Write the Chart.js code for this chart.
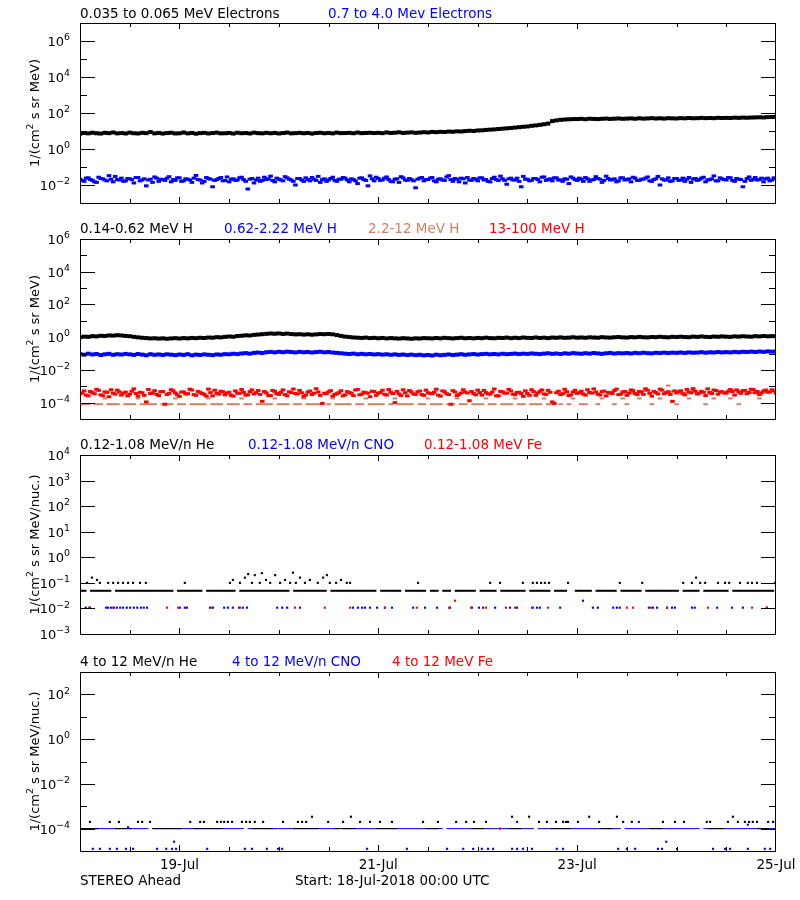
<!DOCTYPE html>
<html>
<head>
<meta charset="utf-8">
<title>STEREO Ahead particle fluxes</title>
<script src="https://cdn.jsdelivr.net/npm/chart.js@4.4.1/dist/chart.umd.min.js"></script>
<style>
  body { margin: 0; background: #fff; }
  #page { position: relative; width: 800px; height: 900px; }
  #page canvas { position: absolute; left: 0; }
</style>
</head>
<body>
<div id="page">
  <canvas id="panel1" width="800" height="215" style="top:0px"></canvas>
  <canvas id="panel2" width="800" height="215" style="top:215px"></canvas>
  <canvas id="panel3" width="800" height="210" style="top:430px"></canvas>
  <canvas id="panel4" width="800" height="260" style="top:640px"></canvas>
</div>
<script>
// time axis: hours after 18-Jul-2018 00:00 UTC; hourly arrays hold one value per hour (0..168),
// the "B" arrays hold the samples taken half an hour later (0.5..167.5)
const dayTicks = [24, 72, 120, 168];
const dayLabels = ['19-Jul', '21-Jul', '23-Jul', '25-Jul'];

// panel 1 - electrons
const elecLow = [
  7.1, 7.8, 7.4, 8.0, 7.5, 7.2, 7.9, 7.6, 8.3, 7.4, 7.7, 7.3,
  8.1, 7.5, 7.3, 7.9, 7.6, 8.7, 7.4, 7.8, 7.2, 7.7, 8.0, 7.3,
  7.5, 8.2, 7.4, 7.8, 7.1, 7.6, 7.9, 7.3, 7.7, 8.1, 7.4, 7.5,
  7.8, 7.2, 8.0, 7.5, 7.7, 7.3, 8.1, 7.6, 7.4, 7.9, 7.5, 7.8,
  7.3, 7.7, 8.2, 7.4, 7.6, 7.9, 7.5, 7.8, 7.2, 7.7, 8.0, 7.5,
  7.8, 7.4, 8.1, 7.6, 7.7, 7.9, 7.5, 8.2, 7.6, 7.8, 8.0, 7.7,
  7.9, 7.6, 8.3, 7.8, 8.0, 8.5, 7.8, 8.1, 8.4, 7.9, 8.2, 8.6,
  8.3, 8.9, 8.6, 9.0, 8.8, 9.3, 9.1, 9.6, 9.4, 9.9, 10.3, 10.1,
  10.7, 10.9, 11.5, 11.9, 12.3, 12.9, 13.5, 14.1, 14.7, 15.5, 16.3, 17.1,
  17.9, 19.4, 20.4, 21.9, 23.8, 25.9, 35.5, 38.8, 41.7, 43.6, 44.8, 45.9,
  46.1, 47.3, 45.2, 48.0, 46.8, 45.9, 47.7, 49.1, 46.9, 48.2, 49.8, 47.6,
  48.8, 50.1, 47.9, 50.6, 48.7, 49.9, 51.8, 49.6, 50.8, 48.9, 51.6, 50.4,
  49.7, 51.9, 50.6, 52.8, 50.9, 51.7, 53.6, 51.8, 52.9, 51.6, 53.8, 52.7,
  53.5, 52.6, 54.8, 53.7, 55.6, 54.5, 55.9, 56.8, 57.6, 56.7, 58.9, 59.8, 61.5
];
const elecHigh = [
  0.021, 0.016, 0.025, 0.018, 0.014, 0.023, 0.019, 0.033, 0.015, 0.020, 0.024, 0.017,
  0.022, 0.013, 0.026, 0.019, 0.009, 0.021, 0.028, 0.016, 0.020, 0.024, 0.015, 0.018,
  0.025, 0.017, 0.021, 0.014, 0.034, 0.019, 0.016, 0.023, 0.008, 0.020, 0.026, 0.018,
  0.015, 0.022, 0.019, 0.027, 0.016, 0.021, 0.013, 0.024, 0.018, 0.020, 0.031, 0.015,
  0.021, 0.017, 0.025, 0.019, 0.010, 0.023, 0.016, 0.020, 0.026, 0.018, 0.014, 0.022,
  0.019, 0.027, 0.016, 0.021, 0.024, 0.015, 0.020, 0.012, 0.025, 0.018, 0.032, 0.017,
  0.023, 0.019, 0.028, 0.016, 0.021, 0.014, 0.025, 0.018, 0.020, 0.007, 0.024, 0.017,
  0.020, 0.026, 0.015, 0.022, 0.018, 0.033, 0.016, 0.021, 0.024, 0.013, 0.019, 0.023,
  0.017, 0.025, 0.020, 0.015, 0.027, 0.018, 0.022, 0.011, 0.024, 0.019, 0.016, 0.030,
  0.021, 0.018, 0.023, 0.015, 0.028, 0.020, 0.017, 0.025, 0.019, 0.022, 0.012, 0.024,
  0.018, 0.021, 0.026, 0.016, 0.020, 0.023, 0.014, 0.031, 0.019, 0.022, 0.017, 0.025,
  0.020, 0.015, 0.024, 0.018, 0.021, 0.028, 0.016, 0.022, 0.010, 0.019, 0.025, 0.017,
  0.023, 0.019, 0.016, 0.026, 0.021, 0.018, 0.024, 0.015, 0.020, 0.032, 0.017, 0.022,
  0.019, 0.025, 0.016, 0.021, 0.008, 0.023, 0.018, 0.026, 0.020, 0.015, 0.024, 0.019, 0.022
];
const elecHighB = [
  0.018, 0.024, 0.020, 0.015, 0.027, 0.022, 0.017, 0.021, 0.030, 0.019, 0.016, 0.023,
  0.020, 0.026, 0.017, 0.022, 0.019, 0.014, 0.024, 0.021, 0.018, 0.029, 0.020, 0.025,
  0.016, 0.022, 0.019, 0.024, 0.020, 0.013, 0.026, 0.021, 0.018, 0.023, 0.017, 0.028,
  0.021, 0.018, 0.025, 0.020, 0.006, 0.023, 0.019, 0.016, 0.027, 0.022, 0.018, 0.024,
  0.019, 0.029, 0.021, 0.016, 0.023, 0.019, 0.025, 0.017, 0.021, 0.030, 0.020, 0.016,
  0.023, 0.018, 0.021, 0.026, 0.019, 0.022, 0.017, 0.024, 0.020, 0.009, 0.022, 0.027,
  0.018, 0.024, 0.020, 0.015, 0.022, 0.029, 0.019, 0.023, 0.017, 0.021, 0.026, 0.020,
  0.024, 0.017, 0.021, 0.019, 0.028, 0.020, 0.023, 0.015, 0.022, 0.026, 0.018, 0.021,
  0.025, 0.019, 0.016, 0.023, 0.020, 0.031, 0.018, 0.022, 0.019, 0.024, 0.008, 0.021,
  0.017, 0.023, 0.020, 0.027, 0.018, 0.022, 0.025, 0.019, 0.016, 0.021, 0.028, 0.020,
  0.024, 0.016, 0.022, 0.019, 0.029, 0.021, 0.018, 0.023, 0.020, 0.015, 0.025, 0.019,
  0.022, 0.027, 0.018, 0.021, 0.024, 0.017, 0.020, 0.030, 0.022, 0.019, 0.016, 0.023,
  0.018, 0.024, 0.021, 0.014, 0.023, 0.020, 0.027, 0.019, 0.022, 0.017, 0.025, 0.020,
  0.026, 0.018, 0.023, 0.020, 0.016, 0.028, 0.021, 0.019, 0.024, 0.022, 0.017, 0.025
];

// panel 2 - protons
const hLow = [
  1.00, 1.08, 1.05, 1.15, 1.12, 1.22, 1.18, 1.28, 1.25, 1.32, 1.27, 1.20,
  1.15, 1.05, 0.98, 0.92, 0.88, 0.84, 0.86, 0.82, 0.85, 0.80, 0.84, 0.87,
  0.83, 0.88, 0.85, 0.90, 0.87, 0.92, 0.89, 0.95, 0.93, 1.00, 0.97, 1.05,
  1.10, 1.06, 1.18, 1.22, 1.30, 1.27, 1.38, 1.45, 1.52, 1.60, 1.68, 1.62,
  1.70, 1.58, 1.66, 1.55, 1.48, 1.52, 1.44, 1.50, 1.42, 1.48, 1.56, 1.52,
  1.58, 1.50, 1.35, 1.20, 1.08, 1.02, 0.96, 0.93, 0.90, 0.94, 0.88, 0.91,
  0.86, 0.90, 0.84, 0.88, 0.85, 0.82, 0.87, 0.84, 0.80, 0.85, 0.83, 0.88,
  0.86, 0.84, 0.89, 0.85, 0.91, 0.87, 0.84, 0.88, 0.92, 0.86, 0.89, 0.85,
  0.90, 0.87, 0.93, 0.88, 0.86, 0.91, 0.89, 0.94, 0.87, 0.92, 0.88, 0.95,
  0.91, 0.89, 0.96, 0.90, 0.93, 0.88, 0.95, 0.92, 0.97, 0.91, 0.94, 0.99,
  0.93, 0.96, 0.92, 0.98, 0.95, 0.93, 1.00, 0.96, 0.94, 0.99, 1.02, 0.97,
  0.95, 1.01, 0.98, 1.04, 0.99, 0.97, 1.03, 1.00, 1.06, 1.01, 0.98, 1.05,
  1.02, 1.07, 1.03, 1.00, 1.08, 1.04, 1.10, 1.05, 1.02, 1.09, 1.06, 1.11,
  1.07, 1.04, 1.12, 1.08, 1.14, 1.10, 1.07, 1.15, 1.12, 1.18, 1.13, 1.16, 1.14
];
const hMid = [
  0.092, 0.085, 0.098, 0.088, 0.094, 0.081, 0.090, 0.096, 0.084, 0.091, 0.087, 0.095,
  0.089, 0.083, 0.093, 0.086, 0.079, 0.091, 0.084, 0.088, 0.082, 0.090, 0.085, 0.080,
  0.087, 0.083, 0.091, 0.078, 0.086, 0.082, 0.089, 0.084, 0.080, 0.088, 0.085, 0.092,
  0.090, 0.097, 0.093, 0.101, 0.106, 0.099, 0.110, 0.115, 0.108, 0.120, 0.126, 0.118,
  0.128, 0.121, 0.130, 0.124, 0.117, 0.127, 0.120, 0.125, 0.116, 0.123, 0.129, 0.119,
  0.124, 0.115, 0.110, 0.104, 0.098, 0.094, 0.099, 0.091, 0.096, 0.090, 0.094, 0.088,
  0.092, 0.086, 0.090, 0.084, 0.089, 0.083, 0.087, 0.081, 0.086, 0.080, 0.084, 0.078,
  0.082, 0.076, 0.085, 0.079, 0.083, 0.088, 0.081, 0.086, 0.091, 0.084, 0.089, 0.093,
  0.087, 0.092, 0.096, 0.090, 0.094, 0.089, 0.097, 0.092, 0.095, 0.099, 0.093, 0.098,
  0.095, 0.101, 0.097, 0.093, 0.099, 0.104, 0.096, 0.100, 0.094, 0.103, 0.098, 0.106,
  0.101, 0.097, 0.105, 0.099, 0.108, 0.102, 0.096, 0.104, 0.109, 0.100, 0.106, 0.103,
  0.107, 0.101, 0.110, 0.105, 0.112, 0.106, 0.103, 0.111, 0.107, 0.114, 0.108, 0.113,
  0.110, 0.116, 0.109, 0.118, 0.112, 0.115, 0.121, 0.113, 0.119, 0.116, 0.123, 0.117,
  0.122, 0.118, 0.126, 0.120, 0.128, 0.124, 0.131, 0.125, 0.133, 0.127, 0.135, 0.130, 0.134
];
const hSien = [
  8e-5, 8e-5, 8e-5, null, 8e-5, 8e-5, 1.8e-4, 8e-5, 8e-5, 8e-5, null, 8e-5,
  8e-5, 8e-5, 1.8e-4, 8e-5, 8e-5, 8e-5, 8e-5, null, 8e-5, 8e-5, 8e-5, 1.8e-4,
  8e-5, 8e-5, null, 8e-5, 8e-5, 8e-5, 8e-5, 1.8e-4, 8e-5, 8e-5, 8e-5, null,
  8e-5, 8e-5, 8e-5, 1.8e-4, 8e-5, 8e-5, null, 8e-5, 8e-5, 8e-5, 8e-5, 1.8e-4,
  8e-5, 8e-5, 8e-5, null, 8e-5, 8e-5, 1.8e-4, 8e-5, 8e-5, 8e-5, 8e-5, null,
  8e-5, 1.8e-4, 8e-5, 8e-5, 8e-5, 8e-5, null, 8e-5, 8e-5, 1.8e-4, 8e-5, 8e-5,
  8e-5, 8e-5, null, 8e-5, 1.8e-4, 8e-5, 8e-5, 8e-5, 8e-5, null, 8e-5, 8e-5,
  1.8e-4, 8e-5, 8e-5, 8e-5, null, 8e-5, 8e-5, 1.8e-4, 8e-5, 8e-5, null, 8e-5,
  8e-5, 8e-5, 1.8e-4, 8e-5, 8e-5, null, 8e-5, 8e-5, 8e-5, 1.8e-4, 8e-5, 8e-5,
  null, 8e-5, 8e-5, 8e-5, 1.8e-4, 8e-5, 8e-5, null, 8e-5, 4.2e-4, 8e-5, 1.8e-4,
  null, 8e-5, 8e-5, 3.9e-4, null, 8e-5, 1.8e-4, null, 4.6e-4, 8e-5, null, 1.8e-4,
  8e-5, 4.0e-4, null, 1.8e-4, 5.2e-4, null, 8e-5, 4.4e-4, 1.8e-4, null, 1.1e-3, 4.8e-4,
  8e-5, null, 4.1e-4, 1.8e-4, 5.5e-4, null, 4.5e-4, 8e-5, 3.8e-4, 1.8e-4, 5.0e-4, null,
  4.3e-4, 1.8e-4, 5.6e-4, 8e-5, 4.7e-4, null, 3.9e-4, 5.3e-4, 1.8e-4, 4.6e-4, null, 5.1e-4, 4.2e-4
];
const hHigh = [
  3.4e-4, 5.2e-4, 2.6e-4, 4.1e-4, 6.5e-4, 3.0e-4, 4.6e-4, 2.3e-4, 3.8e-4, 5.8e-4, 2.9e-4, 4.4e-4,
  3.3e-4, 6.9e-4, 2.5e-4, 4.0e-4, 1.1e-4, 3.6e-4, 5.4e-4, 2.7e-4, 4.8e-4, 3.1e-4, 6.2e-4, 3.9e-4,
  2.4e-4, 4.5e-4, 3.5e-4, 5.9e-4, 2.8e-4, 4.2e-4, 3.2e-4, 6.7e-4, 2.6e-4, 3.7e-4, 5.0e-4, 3.0e-4,
  4.3e-4, 2.5e-4, 3.8e-4, 6.3e-4, 2.9e-4, 4.7e-4, 3.4e-4, 5.5e-4, 1.2e-4, 3.9e-4, 2.7e-4, 4.9e-4,
  3.2e-4, 6.0e-4, 2.6e-4, 4.1e-4, 3.6e-4, 5.6e-4, 2.4e-4, 4.4e-4, 3.1e-4, 7.1e-4, 2.8e-4, 3.8e-4,
  4.6e-4, 2.5e-4, 3.5e-4, 5.3e-4, 3.0e-4, 4.2e-4, 2.7e-4, 6.4e-4, 3.3e-4, 4.0e-4, 2.3e-4, 4.8e-4,
  3.7e-4, 5.7e-4, 2.9e-4, 4.3e-4, 1.0e-4, 3.4e-4, 6.1e-4, 2.6e-4, 4.5e-4, 3.2e-4, 5.1e-4, 2.8e-4,
  4.0e-4, 3.5e-4, 6.6e-4, 2.5e-4, 4.7e-4, 3.1e-4, 5.4e-4, 2.7e-4, 3.9e-4, 4.4e-4, 1.3e-4, 3.6e-4,
  5.8e-4, 2.9e-4, 4.1e-4, 3.3e-4, 6.8e-4, 2.6e-4, 4.6e-4, 3.8e-4, 5.2e-4, 3.0e-4, 4.3e-4, 2.4e-4,
  3.6e-4, 6.2e-4, 2.8e-4, 4.9e-4, 3.4e-4, 5.6e-4, 1.1e-4, 4.0e-4, 3.1e-4, 6.5e-4, 2.7e-4, 4.5e-4,
  3.7e-4, 5.0e-4, 2.9e-4, 4.2e-4, 6.9e-4, 3.3e-4, 4.7e-4, 2.6e-4, 3.9e-4, 5.5e-4, 3.1e-4, 4.4e-4,
  2.8e-4, 6.0e-4, 3.6e-4, 4.8e-4, 3.2e-4, 5.7e-4, 2.5e-4, 4.1e-4, 6.7e-4, 3.5e-4, 4.6e-4, 1.2e-4,
  3.9e-4, 5.3e-4, 3.0e-4, 4.4e-4, 7.2e-4, 3.4e-4, 4.9e-4, 2.7e-4, 4.2e-4, 5.9e-4, 3.3e-4, 4.7e-4,
  3.8e-4, 6.3e-4, 2.9e-4, 4.5e-4, 5.4e-4, 3.5e-4, 6.6e-4, 4.0e-4, 3.1e-4, 5.1e-4, 4.3e-4, 6.1e-4, 3.7e-4
];
const hHighB = [
  3.9e-4, 2.9e-4, 4.8e-4, 3.5e-4, 5.6e-4, 2.7e-4, 4.2e-4, 6.1e-4, 3.3e-4, 4.5e-4, 3.8e-4, 2.6e-4,
  5.0e-4, 3.6e-4, 4.3e-4, 2.8e-4, 6.4e-4, 3.9e-4, 3.2e-4, 4.7e-4, 8e-5, 3.7e-4, 5.3e-4, 3.0e-4,
  4.4e-4, 3.4e-4, 6.6e-4, 3.1e-4, 4.9e-4, 3.6e-4, 2.5e-4, 4.1e-4, 5.7e-4, 3.3e-4, 4.6e-4, 3.9e-4,
  2.8e-4, 5.2e-4, 3.7e-4, 4.2e-4, 3.0e-4, 6.0e-4, 4.0e-4, 3.2e-4, 4.8e-4, 2.7e-4, 5.5e-4, 3.6e-4,
  4.3e-4, 3.1e-4, 4.6e-4, 6.8e-4, 3.4e-4, 4.0e-4, 2.9e-4, 5.1e-4, 3.8e-4, 4.5e-4, 9e-5, 3.5e-4,
  5.4e-4, 3.2e-4, 4.1e-4, 2.6e-4, 4.7e-4, 3.7e-4, 5.9e-4, 3.0e-4, 4.4e-4, 3.8e-4, 5.0e-4, 2.8e-4,
  4.2e-4, 3.3e-4, 6.3e-4, 3.6e-4, 4.9e-4, 2.7e-4, 4.0e-4, 5.5e-4, 3.4e-4, 4.6e-4, 3.1e-4, 5.8e-4,
  3.7e-4, 4.3e-4, 2.9e-4, 5.2e-4, 3.5e-4, 8e-5, 4.5e-4, 3.2e-4, 6.1e-4, 3.9e-4, 4.8e-4, 3.0e-4,
  4.1e-4, 5.6e-4, 3.4e-4, 4.4e-4, 2.6e-4, 4.9e-4, 3.8e-4, 6.5e-4, 3.3e-4, 4.2e-4, 3.6e-4, 5.3e-4,
  2.8e-4, 4.7e-4, 3.9e-4, 6.0e-4, 3.2e-4, 4.3e-4, 9e-5, 5.0e-4, 3.5e-4, 4.6e-4, 3.0e-4, 5.7e-4,
  4.0e-4, 3.4e-4, 6.2e-4, 3.8e-4, 4.5e-4, 2.9e-4, 5.1e-4, 4.2e-4, 3.6e-4, 6.7e-4, 3.3e-4, 4.8e-4,
  3.9e-4, 5.4e-4, 3.1e-4, 4.4e-4, 7.0e-4, 3.7e-4, 4.9e-4, 3.4e-4, 5.8e-4, 4.1e-4, 3.2e-4, 5.2e-4,
  4.6e-4, 3.5e-4, 6.4e-4, 4.0e-4, 5.0e-4, 3.8e-4, 4.3e-4, 6.9e-4, 3.6e-4, 5.5e-4, 4.4e-4, 3.9e-4,
  5.1e-4, 4.7e-4, 6.0e-4, 3.7e-4, 5.6e-4, 4.2e-4, 6.3e-4, 4.8e-4, 3.9e-4, 5.9e-4, 4.5e-4, 5.3e-4
];

// panel 3 - 0.12-1.08 MeV/n heavy ions
const heLine = [
  0.049, 0.049, null, 0.049, 0.049, 0.049, 0.049, 0.049, null, 0.049, 0.049, 0.049,
  0.049, 0.049, 0.049, 0.049, 0.049, 0.049, 0.049, 0.049, 0.049, 0.049, 0.049, null,
  0.049, 0.049, 0.049, 0.049, 0.049, 0.049, null, 0.049, 0.049, 0.049, 0.049, 0.049,
  0.049, 0.049, null, 0.049, 0.049, 0.049, 0.049, 0.049, 0.049, 0.049, 0.049, 0.049,
  0.049, 0.049, 0.049, null, 0.049, 0.049, 0.049, 0.049, 0.049, 0.049, 0.049, 0.049,
  null, 0.049, 0.049, 0.049, 0.049, 0.049, 0.049, 0.049, 0.049, 0.049, 0.049, 0.049,
  null, 0.049, 0.049, 0.049, 0.049, 0.049, null, 0.049, 0.049, 0.049, 0.049, 0.049,
  null, 0.049, 0.049, null, 0.049, 0.049, null, 0.049, 0.049, 0.049, 0.049, 0.049,
  null, 0.049, 0.049, 0.049, 0.049, null, 0.049, 0.049, 0.049, 0.049, 0.049, 0.049,
  null, 0.049, 0.049, 0.049, 0.049, 0.049, null, 0.049, 0.049, 0.049, null, null,
  0.049, 0.049, 0.049, 0.049, null, 0.049, 0.049, 0.049, 0.049, 0.049, null, 0.049,
  0.049, 0.049, 0.049, 0.049, null, 0.049, 0.049, 0.049, 0.049, 0.049, 0.049, 0.049,
  0.049, null, 0.049, 0.049, 0.049, 0.049, null, 0.049, 0.049, 0.049, 0.049, 0.049,
  0.049, null, 0.049, 0.049, 0.049, 0.049, 0.049, 0.049, 0.049, 0.049, 0.049, 0.049, null
];
const heDotT = [
  1.7, 2.9, 4.1, 4.8, 6.8, 8.0, 9.2, 10.4, 11.6, 12.8,
  14.5, 15.9, 25.3, 36.2, 36.9, 38.6, 39.8, 40.6, 41.5, 42.2,
  43.4, 43.9, 44.9, 45.9, 47.1, 48.3, 49.5, 50.7, 51.4, 52.1,
  53.1, 54.3, 55.5, 57.4, 58.7, 59.6, 60.3, 61.8, 63.0, 64.4,
  65.2, 81.6, 99.0, 101.4, 106.9, 109.3, 110.3, 111.3, 112.2, 113.2,
  117.8, 130.3, 135.7, 145.6, 147.7, 148.7, 149.7, 150.9, 154.0, 155.7,
  156.7, 159.3, 161.2, 162.2, 163.4, 167.8
];
const heDotV = [
  0.10, 0.16, 0.13, 0.10, 0.10, 0.10, 0.10, 0.10, 0.10, 0.10,
  0.10, 0.10, 0.10, 0.10, 0.13, 0.10, 0.16, 0.22, 0.10, 0.20,
  0.10, 0.24, 0.13, 0.10, 0.20, 0.10, 0.13, 0.10, 0.25, 0.10,
  0.16, 0.10, 0.13, 0.10, 0.16, 0.20, 0.10, 0.10, 0.13, 0.10,
  0.10, 0.10, 0.10, 0.10, 0.10, 0.10, 0.10, 0.10, 0.10, 0.10,
  0.10, 0.10, 0.10, 0.10, 0.10, 0.16, 0.10, 0.10, 0.10, 0.10,
  0.10, 0.10, 0.10, 0.10, 0.10, 0.10
];
const cnoDotT = [
  1.4, 2.4, 6.3, 6.8, 7.5, 8.2, 8.9, 9.7, 10.4, 11.3,
  12.1, 13.0, 13.8, 14.7, 15.4, 16.2, 24.1, 25.3, 25.8, 31.4,
  32.1, 34.8, 35.7, 36.9, 38.4, 39.3, 40.3, 47.6, 48.8, 50.0,
  53.1, 65.9, 67.1, 68.1, 68.8, 70.0, 71.7, 73.6, 75.3, 80.4,
  83.3, 86.2, 89.3, 94.6, 96.3, 97.3, 100.2, 103.8, 105.5, 109.3,
  110.3, 111.0, 115.9, 121.4, 123.8, 125.0, 128.7, 129.6, 130.3, 137.3,
  138.3, 139.3, 141.7, 142.9, 143.6, 147.7, 148.4, 153.8, 157.4, 160.0,
  165.8
];
const cnoDotV = [
  0.0107, 0.0107, 0.0107, 0.0107, 0.0107, 0.0107, 0.0107, 0.0107, 0.0107, 0.0107,
  0.0107, 0.0107, 0.0107, 0.0107, 0.0107, 0.0107, 0.0107, 0.0107, 0.0107, 0.0107,
  0.0107, 0.0107, 0.0107, 0.0107, 0.0107, 0.0107, 0.0107, 0.0107, 0.0107, 0.0107,
  0.0107, 0.0107, 0.0107, 0.0107, 0.0107, 0.0107, 0.0107, 0.0107, 0.0107, 0.0107,
  0.0107, 0.0107, 0.0107, 0.0107, 0.0107, 0.0107, 0.0107, 0.0107, 0.0107, 0.0107,
  0.0107, 0.0107, 0.0107, 0.020, 0.0107, 0.0107, 0.0107, 0.0107, 0.0107, 0.0107,
  0.0107, 0.0107, 0.0107, 0.0107, 0.0107, 0.0107, 0.0107, 0.0107, 0.0107, 0.0107,
  0.0107
];
const feDotT = [
  2.2, 8.0, 21.0, 23.7, 31.9, 38.6, 51.9, 59.1, 65.2, 73.6,
  81.3, 89.1, 90.5, 94.4, 98.0, 102.8, 105.0, 109.1, 113.0, 132.0,
  133.5, 137.8, 141.7, 151.6, 162.2, 165.8
];
const feDotV = [
  0.0107, 0.0107, 0.0107, 0.0107, 0.0107, 0.0107, 0.0107, 0.0107, 0.0107, 0.0107,
  0.0107, 0.0107, 0.020, 0.0107, 0.0107, 0.0107, 0.0107, 0.0107, 0.0107, 0.0107,
  0.0107, 0.0107, 0.0107, 0.0107, 0.0107, 0.0107
];

// panel 4 - 4 to 12 MeV/n heavy ions
const heHighLine = [
  1e-4, 1e-4, 1e-4, 1e-4, 1e-4, null, null, null, null, 1e-4, 1e-4, 1e-4,
  1e-4, null, null, null, null, null, 1e-4, 1e-4, 1e-4, 1e-4, 1e-4, 1e-4,
  1e-4, null, null, null, 1e-4, 1e-4, 1e-4, 1e-4, 1e-4, 1e-4, 1e-4, null,
  null, null, null, null, null, null, 1e-4, 1e-4, 1e-4, 1e-4, 1e-4, null,
  null, null, null, null, 1e-4, 1e-4, 1e-4, 1e-4, 1e-4, 1e-4, null, null,
  null, null, 1e-4, 1e-4, 1e-4, 1e-4, 1e-4, null, null, null, null, null,
  1e-4, 1e-4, 1e-4, 1e-4, 1e-4, null, null, null, null, null, null, null,
  1e-4, 1e-4, 1e-4, null, null, null, null, null, null, null, null, 1e-4,
  1e-4, 1e-4, null, null, null, null, null, null, 1e-4, 1e-4, 1e-4, null,
  null, null, null, null, null, null, 1e-4, 1e-4, 1e-4, 1e-4, 1e-4, null,
  null, null, null, null, null, null, 1e-4, 1e-4, 1e-4, null, null, null,
  null, null, null, null, null, null, 1e-4, 1e-4, 1e-4, null, null, null,
  null, null, null, null, null, null, null, null, 1e-4, 1e-4, 1e-4, 1e-4,
  null, null, null, null, null, null, null, null, 1e-4, 1e-4, 1e-4, null, null
];
const cnoHighLine = [
  1e-4, 1e-4, 1e-4, 1e-4, 1e-4, 1e-4, 1e-4, 1e-4, 1e-4, 1e-4, 1e-4, 1e-4,
  1e-4, 1e-4, 1e-4, 1e-4, 1e-4, null, 1e-4, 1e-4, 1e-4, 1e-4, 1e-4, 1e-4,
  1e-4, 1e-4, 1e-4, 1e-4, 1e-4, 1e-4, 1e-4, 1e-4, 1e-4, 1e-4, 1e-4, 1e-4,
  1e-4, 1e-4, 1e-4, 1e-4, null, 1e-4, 1e-4, 1e-4, 1e-4, 1e-4, 1e-4, 1e-4,
  1e-4, 1e-4, 1e-4, 1e-4, 1e-4, 1e-4, 1e-4, 1e-4, 1e-4, 1e-4, 1e-4, 1e-4,
  1e-4, 1e-4, 1e-4, null, 1e-4, 1e-4, 1e-4, 1e-4, 1e-4, 1e-4, 1e-4, 1e-4,
  1e-4, 1e-4, 1e-4, 1e-4, 1e-4, 1e-4, 1e-4, 1e-4, 1e-4, 1e-4, 1e-4, 1e-4,
  1e-4, 1e-4, 1e-4, 1e-4, null, 1e-4, 1e-4, 1e-4, 1e-4, 1e-4, 1e-4, 1e-4,
  1e-4, 1e-4, 1e-4, 1e-4, 1e-4, 1e-4, 1e-4, 1e-4, 1e-4, 1e-4, 1e-4, 1e-4,
  1e-4, 1e-4, null, 1e-4, 1e-4, 1e-4, 1e-4, 1e-4, 1e-4, 1e-4, 1e-4, 1e-4,
  1e-4, 1e-4, 1e-4, 1e-4, 1e-4, 1e-4, 1e-4, 1e-4, 1e-4, 1e-4, 1e-4, null,
  1e-4, 1e-4, 1e-4, 1e-4, 1e-4, 1e-4, 1e-4, 1e-4, 1e-4, 1e-4, 1e-4, 1e-4,
  1e-4, 1e-4, 1e-4, 1e-4, 1e-4, 1e-4, null, 1e-4, 1e-4, 1e-4, 1e-4, 1e-4,
  1e-4, 1e-4, 1e-4, 1e-4, 1e-4, 1e-4, 1e-4, 1e-4, 1e-4, 1e-4, 1e-4, 1e-4, 1e-4
];
const heHighDotT = [
  2.4, 7.2, 9.4, 14.0, 15.0, 16.9, 26.6, 29.0, 29.9, 33.1,
  34.0, 34.8, 35.7, 36.7, 39.1, 40.1, 41.0, 42.2, 44.2, 49.0,
  52.6, 53.6, 54.6, 56.0, 59.9, 63.5, 65.4, 67.6, 70.0, 72.4,
  75.3, 82.8, 86.4, 90.8, 93.2, 95.1, 98.0, 104.3, 108.4, 110.8,
  112.7, 114.9, 116.6, 117.3, 117.8, 120.2, 122.9, 125.3, 129.6, 131.1,
  133.2, 140.7, 143.6, 145.8, 151.3, 152.1, 156.4, 157.6, 158.8, 160.5,
  161.5, 162.4, 163.4, 166.1, 167.3, 168.0
];
const heHighDotV = [
  2e-4, 2e-4, 2e-4, 2e-4, 2e-4, 2e-4, 2e-4, 2e-4, 2e-4, 2e-4,
  2e-4, 2e-4, 2e-4, 2e-4, 2e-4, 2e-4, 2e-4, 2e-4, 2e-4, 2e-4,
  2e-4, 2e-4, 2e-4, 3.4e-4, 2e-4, 2e-4, 3.4e-4, 2e-4, 2e-4, 2e-4,
  2e-4, 2e-4, 2e-4, 2e-4, 2e-4, 2e-4, 2e-4, 3.4e-4, 3.4e-4, 2e-4,
  2e-4, 2e-4, 2e-4, 2e-4, 2e-4, 2e-4, 3.4e-4, 2e-4, 3.4e-4, 2e-4,
  2e-4, 2e-4, 2e-4, 2e-4, 2e-4, 2e-4, 2e-4, 3.4e-4, 2e-4, 2e-4,
  2e-4, 2e-4, 2e-4, 2e-4, 2e-4, 3.4e-4
];
const cnoHighDotT = [
  3.1, 4.8, 7.2, 8.9, 11.1, 11.6, 12.8, 18.6, 20.8, 22.2,
  22.7, 23.2, 30.7, 39.8, 41.5, 45.1, 47.8, 48.8, 69.3, 78.9,
  88.6, 92.5, 94.9, 97.0, 98.5, 99.7, 104.3, 105.5, 105.5, 106.9,
  109.1, 115.1, 116.6, 129.9, 132.0, 134.0, 134.9, 139.5, 140.5, 141.5,
  144.1, 152.8, 155.7, 156.9, 161.2, 161.2, 165.3, 166.6
];
const cnoHighDotV = [
  1.25e-5, 1.25e-5, 1.25e-5, 1.25e-5, 1.25e-5, 1.15e-4, 1.25e-5, 1.25e-5, 1.25e-5, 1.25e-5,
  2.6e-5, 1.25e-5, 1.25e-5, 1.25e-5, 1.25e-5, 1.25e-5, 1.25e-5, 1.25e-5, 1.25e-5, 1.25e-5,
  1.25e-5, 1.25e-5, 1.25e-5, 1.25e-5, 1.25e-5, 1.25e-5, 1.25e-5, 1.25e-5, 2e-4, 1.25e-5,
  1.25e-5, 1.25e-5, 1.25e-5, 1.25e-5, 1.25e-5, 1.25e-5, 2e-4, 1.25e-5, 1.25e-5, 2.6e-5,
  1.25e-5, 1.25e-5, 1.25e-5, 1.25e-5, 1.25e-5, 1.5e-4, 1.25e-5, 1.25e-5
];
const feHighDotT = [101.4];
const feHighDotV = [1e-4];

const BLACK = '#000000';
const BLUE = '#0000ff';
const TAN = 'rgb(205,128,100)';
const RED = '#ff0000';
const FONT = "'DejaVu Sans', sans-serif";
const TXT = 13.5;

const hourly = vals => vals.map((v, i) => ({ x: i, y: v }));
const halfHourly = vals => vals.map((v, i) => ({ x: i + 0.5, y: v }));
const timed = (t, v) => t.map((h, i) => ({ x: h, y: v[i] }));

// short horizontal dashes, one per sample, like the IDL dot clouds
function dashes(data, color, width, order) {
  return {
    data, order, showLine: false,
    pointStyle: 'line', pointRadius: 2.3, pointBorderWidth: width,
    pointBorderColor: color, pointBackgroundColor: color
  };
}
function dots(data, color, size, order) {
  return {
    data, order, showLine: false,
    pointStyle: 'rect', pointRadius: size, pointBorderWidth: 0,
    pointBackgroundColor: color, pointBorderColor: color
  };
}

// text with superscript pieces
function partsWidth(ctx, parts, size) {
  let w = 0;
  for (const [t, sup] of parts) {
    ctx.font = (sup ? size * 0.72 : size) + 'px ' + FONT;
    w += ctx.measureText(t).width;
  }
  return w;
}
function drawParts(ctx, parts, x, y, size) {
  let cx = x;
  for (const [t, sup] of parts) {
    ctx.font = (sup ? size * 0.72 : size) + 'px ' + FONT;
    ctx.fillText(t, cx, sup ? y - size * 0.45 : y);
    cx += ctx.measureText(t).width;
  }
}

const idlFrame = {
  id: 'idlFrame',
  beforeDraw(chart) {
    const ctx = chart.ctx;
    ctx.save();
    ctx.fillStyle = '#fff';
    ctx.fillRect(0, 0, chart.width, chart.height);
    ctx.restore();
  },
  afterDraw(chart, args, o) {
    const { ctx, chartArea: a } = chart;
    const xs = chart.scales.x, ys = chart.scales.y;
    ctx.save();
    ctx.strokeStyle = BLACK;
    ctx.fillStyle = BLACK;
    ctx.lineWidth = 1;
    ctx.strokeRect(a.left + 0.5, a.top + 0.5, a.right - a.left - 1, a.bottom - a.top);

    const tick = (x1, y1, x2, y2) => {
      ctx.beginPath(); ctx.moveTo(x1, y1); ctx.lineTo(x2, y2); ctx.stroke();
    };
    // y ticks on both sides
    const yTick = (e, len) => {
      const py = Math.round(ys.getPixelForValue(Math.pow(10, e))) + 0.5;
      tick(a.left, py, a.left + len, py);
      tick(a.right, py, a.right - len, py);
    };
    o.labels.forEach(e => yTick(e, 15));
    o.minors.forEach(e => yTick(e, 7));
    // x ticks every 12 h, longer at labelled days
    for (let h = 12; h < 168; h += 12) {
      const px = Math.round(xs.getPixelForValue(h)) + 0.5;
      const len = dayTicks.includes(h) ? 6 : 4;
      tick(px, a.bottom, px, a.bottom - len);
      tick(px, a.top, px, a.top + len);
    }
    // y tick labels 10^n
    ctx.textBaseline = 'alphabetic';
    ctx.textAlign = 'left';
    o.labels.forEach(e => {
      const py = ys.getPixelForValue(Math.pow(10, e));
      const parts = [['10', false], [e < 0 ? '\u2212' + (-e) : String(e), true]];
      const w = partsWidth(ctx, parts, 13);
      drawParts(ctx, parts, 70 - w, py + 5, 13);
    });
    // rotated y title
    ctx.save();
    ctx.translate(39, (a.top + a.bottom) / 2);
    ctx.rotate(-Math.PI / 2);
    const tparts = [['1/(cm', false], ['2', true], [' s sr ' + o.unit + ')', false]];
    drawParts(ctx, tparts, -partsWidth(ctx, tparts, 13) / 2, 0, 13);
    ctx.restore();
    // coloured series names above the frame
    ctx.font = TXT + 'px ' + FONT;
    o.titles.forEach(([txt, col, tx]) => {
      ctx.fillStyle = col;
      ctx.fillText(txt, tx, o.titleY);
    });
    ctx.fillStyle = BLACK;
    if (o.footer) {
      ctx.textAlign = 'center';
      dayTicks.forEach((h, i) => ctx.fillText(dayLabels[i], xs.getPixelForValue(h), a.bottom + 18));
      ctx.textAlign = 'left';
      ctx.fillText('STEREO Ahead', 80, a.bottom + 34);
      ctx.fillText('Start: 18-Jul-2018 00:00 UTC', 295, a.bottom + 34);
    }
    ctx.restore();
  }
};

function makePanel(id, cfg) {
  return new Chart(document.getElementById(id), {
    type: 'scatter',
    data: { datasets: cfg.datasets },
    options: {
      responsive: false,
      animation: false,
      devicePixelRatio: 1,
      events: [],
      layout: { padding: { left: 80, right: 24, top: cfg.padTop, bottom: cfg.padBottom } },
      plugins: { legend: { display: false }, tooltip: { enabled: false }, idlFrame: cfg.frame },
      scales: {
        x: { type: 'linear', min: 0, max: 168, display: false },
        y: { type: 'logarithmic', min: cfg.yMin, max: cfg.yMax, display: false }
      }
    },
    plugins: [idlFrame]
  });
}

makePanel('panel1', {
  padTop: 23, padBottom: 12, yMin: 1e-3, yMax: 1e7,
  frame: {
    labels: [6, 4, 2, 0, -2], minors: [5, 3, 1, -1], unit: 'MeV', titleY: 18,
    titles: [['0.035 to 0.065 MeV Electrons', BLACK, 80], ['0.7 to 4.0 Mev Electrons', BLUE, 328]]
  },
  datasets: [
    dashes(hourly(elecLow), BLACK, 4, 0),
    dashes(hourly(elecHigh), BLUE, 3, 1),
    dashes(halfHourly(elecHighB), BLUE, 3, 1)
  ]
});

makePanel('panel2', {
  padTop: 24, padBottom: 11, yMin: 1e-5, yMax: 1e6,
  frame: {
    labels: [6, 4, 2, 0, -2, -4], minors: [5, 3, 1, -1, -3], unit: 'MeV', titleY: 18,
    titles: [['0.14-0.62 MeV H', BLACK, 80], ['0.62-2.22 MeV H', BLUE, 224],
             ['2.2-12 MeV H', TAN, 368], ['13-100 MeV H', RED, 489]]
  },
  datasets: [
    dashes(hourly(hLow), BLACK, 4, 0),
    dashes(hourly(hMid), BLUE, 4, 1),
    dashes(hourly(hSien), TAN, 2, 3),
    dashes(hourly(hHigh), RED, 3, 2),
    dashes(halfHourly(hHighB), RED, 3, 2)
  ]
});

makePanel('panel3', {
  padTop: 25, padBottom: 6, yMin: 1e-3, yMax: 1e4,
  frame: {
    labels: [4, 3, 2, 1, 0, -1, -2, -3], minors: [], unit: 'MeV/nuc.', titleY: 19,
    titles: [['0.12-1.08 MeV/n He', BLACK, 80], ['0.12-1.08 MeV/n CNO', BLUE, 248],
             ['0.12-1.08 MeV Fe', RED, 424]]
  },
  datasets: [
    dashes(hourly(heLine), BLACK, 2, 2),
    dots(timed(heDotT, heDotV), BLACK, 1.5, 2),
    dots(timed(cnoDotT, cnoDotV), BLUE, 1.5, 1),
    dots(timed(feDotT, feDotV), RED, 1.5, 0)
  ]
});

makePanel('panel4', {
  padTop: 32, padBottom: 49, yMin: 1e-5, yMax: 1e3,
  frame: {
    labels: [2, 0, -2, -4], minors: [1, -1, -3], unit: 'MeV/nuc.', titleY: 26, footer: true,
    titles: [['4 to 12 MeV/n He', BLACK, 80], ['4 to 12 MeV/n CNO', BLUE, 232],
             ['4 to 12 MeV Fe', RED, 392]]
  },
  datasets: [
    dashes(hourly(cnoHighLine), BLUE, 1, 2),
    dashes(hourly(heHighLine), BLACK, 1, 1),
    dots(timed(heHighDotT, heHighDotV), BLACK, 1.5, 1),
    dots(timed(cnoHighDotT, cnoHighDotV), BLUE, 1.5, 2),
    dots(timed(feHighDotT, feHighDotV), RED, 1.5, 0)
  ]
});
</script>
</body>
</html>
